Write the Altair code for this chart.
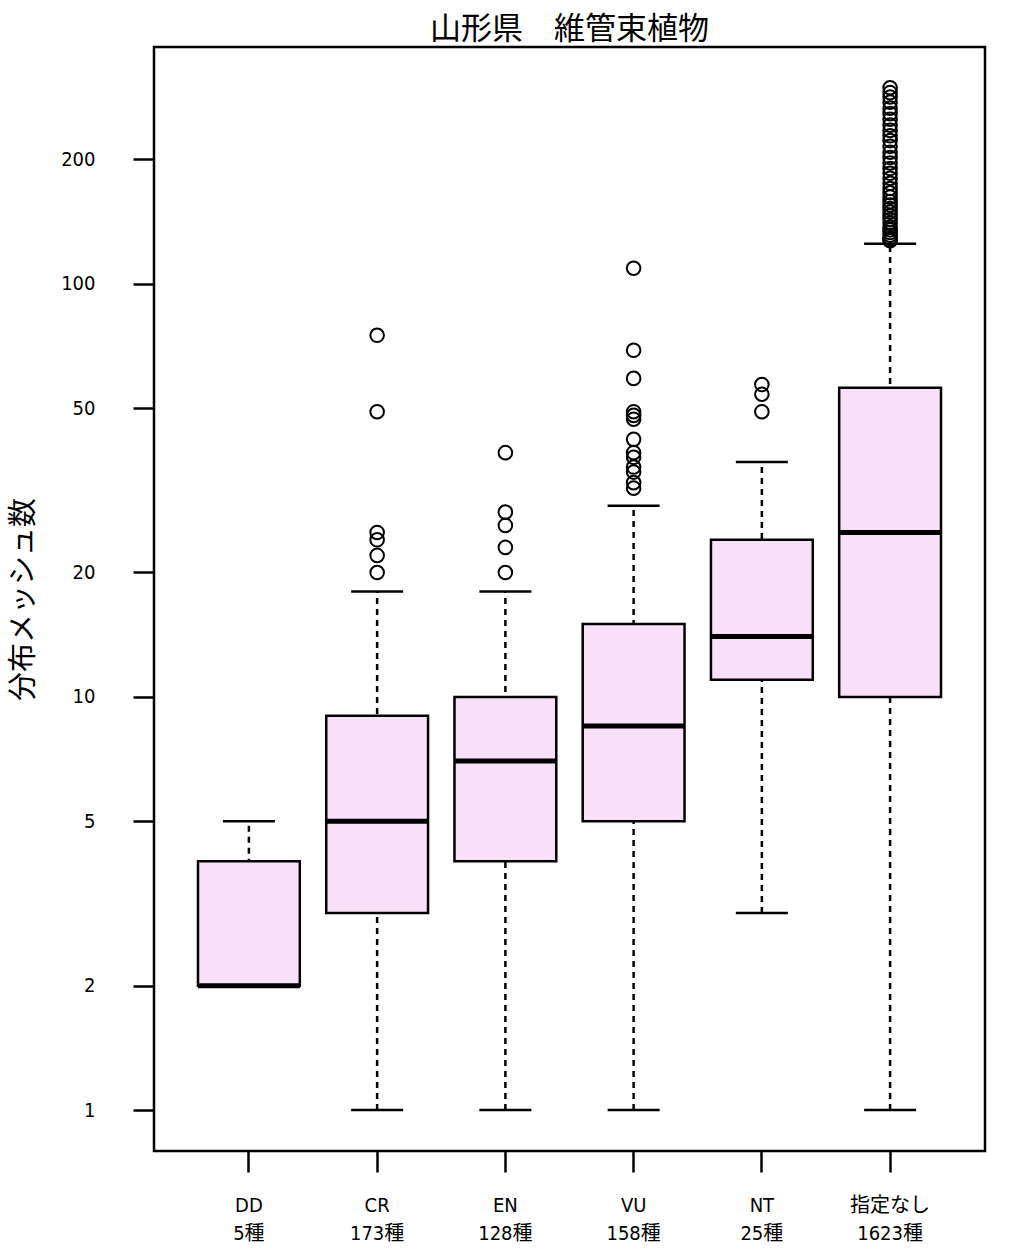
import altair as alt
import pandas as pd

# ---- data ----
categories = ["DD", "CR", "EN", "VU", "NT", "指定なし"]
species_counts = [5, 173, 128, 158, 25, 1623]
whisker_low = [2, 1, 1, 1, 3, 1]
q1 = [2, 3, 4, 5, 11, 10]
median = [2, 5, 7, 8.5, 14, 25]
q3 = [4, 9, 10, 15, 24, 56]
whisker_high = [5, 18, 18, 29, 37, 125]

outliers_CR = [20, 22, 24, 25, 49, 75]
outliers_EN = [20, 23, 26, 28, 39]
outliers_VU = [32, 33, 35, 36, 38, 39, 42, 47, 48, 49, 59, 69, 109]
outliers_NT = [49, 54, 57]
outliers_none = [127, 128, 129, 131, 133, 135, 137, 140, 143, 146, 149, 152,
                 155, 158, 162, 166, 170, 175, 180, 185, 190, 196, 202, 208,
                 215, 222, 228, 235, 242, 250, 258, 266, 275, 283, 290, 298]

y_ticks = [1, 2, 5, 10, 20, 50, 100, 200]

labels = [f"{c}\n{n}種" for c, n in zip(categories, species_counts)]

stats = pd.DataFrame({
    "label": labels,
    "lo": whisker_low,
    "q1": q1,
    "med": median,
    "q3": q3,
    "hi": whisker_high,
})

out_rows = []
for lab, vals in zip(labels[1:], [outliers_CR, outliers_EN, outliers_VU, outliers_NT, outliers_none]):
    for v in vals:
        out_rows.append({"label": lab, "value": v})
outs = pd.DataFrame(out_rows)

NUM_FONT = "'DejaVu Sans Condensed', 'Liberation Sans Narrow', 'Noto Sans CJK JP', sans-serif"
JP_FONT = "Noto Sans CJK JP"

x_enc = alt.X(
    "label:N",
    sort=labels,
    scale=alt.Scale(paddingInner=0.206, paddingOuter=0.343),
    axis=alt.Axis(
        title=None,
        labelExpr="split(datum.label, '\\n')",
        labelAngle=0,
        labelFont=NUM_FONT,
        labelFontSize=20,
        labelColor="black",
        labelLineHeight=28,
        labelPadding=23,
        labelBaseline="top",
        tickSize=21,
        tickWidth=2.5,
        tickColor="black",
        domain=False,
        grid=False,
    ),
)

yscale = alt.Scale(type="log", domain=[0.796, 374], nice=False)
yaxis = alt.Axis(
    title="分布メッシュ数",
    values=y_ticks,
    format="d",
    labelFont=NUM_FONT,
    labelFontSize=20,
    labelColor="black",
    labelPadding=38,
    tickSize=21,
    tickWidth=2.5,
    tickColor="black",
    domain=False,
    grid=False,
    titleFont=JP_FONT,
    titleFontSize=29,
    titleFontWeight="normal",
    titleColor="black",
    titleAngle=-90,
    titleX=-131,
    titleY=552,
    titleAlign="center",
    titleBaseline="middle",
)

def Y(field):
    return alt.Y(f"{field}:Q", scale=yscale, axis=yaxis)

base = alt.Chart(stats)

whisk = base.mark_rule(color="black", strokeWidth=2.5, strokeDash=[6, 5], opacity=1).encode(
    x=x_enc, y=Y("lo"), y2="hi:Q"
)
cap_lo = base.mark_tick(color="black", size=52, thickness=2.5, opacity=1).encode(x=x_enc, y=Y("lo"))
cap_hi = base.mark_tick(color="black", size=52, thickness=2.5, opacity=1).encode(x=x_enc, y=Y("hi"))
box = base.mark_bar(fill="#F9E0F9", stroke="black", strokeWidth=2.5, opacity=1).encode(
    x=x_enc, y=Y("q1"), y2="q3:Q"
)
med = base.mark_tick(color="black", size=102, thickness=5, opacity=1).encode(x=x_enc, y=Y("med"))

pts = alt.Chart(outs).mark_point(
    shape="circle", filled=False, color="black", strokeWidth=2, size=185, opacity=1
).encode(x=x_enc, y=Y("value"))

chart = alt.layer(whisk, cap_lo, cap_hi, box, med, pts).properties(
    width=831,
    height=1104,
    background="white",
    title=alt.TitleParams(
        "山形県　維管束植物",
        font=JP_FONT,
        fontSize=31,
        fontWeight="normal",
        color="black",
        anchor="middle",
        offset=1,
    ),
    autosize=alt.AutoSizeParams(type="none"),
    padding={"left": 154, "top": 47, "right": 33, "bottom": 109},
).configure_view(
    stroke="black", strokeWidth=2.5
)

chart.save("out.html", embed_options={"renderer": "svg", "actions": False})
